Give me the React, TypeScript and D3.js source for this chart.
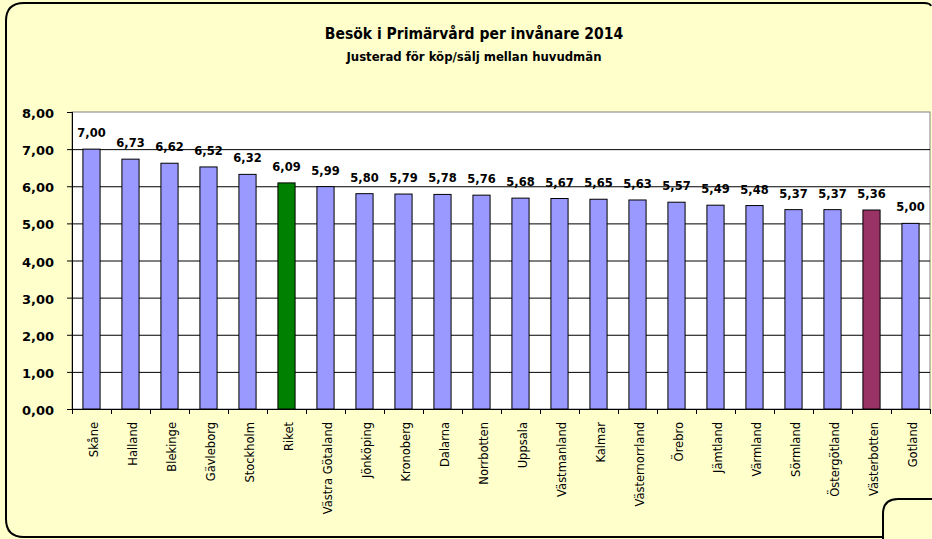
import React from 'react';
import * as d3 from 'd3';

const WIDTH = 932;
const HEIGHT = 539;

// regions, sorted as in the picture
const regions = [
  'Skåne', 'Halland', 'Blekinge', 'Gävleborg', 'Stockholm', 'Riket',
  'Västra Götaland', 'Jönköping', 'Kronoberg', 'Dalarna', 'Norrbotten',
  'Uppsala', 'Västmanland', 'Kalmar', 'Västernorrland', 'Örebro',
  'Jämtland', 'Värmland', 'Sörmland', 'Östergötland', 'Västerbotten', 'Gotland',
];
const visits = [
  7.00, 6.73, 6.62, 6.52, 6.32, 6.09, 5.99, 5.80, 5.79, 5.78, 5.76,
  5.68, 5.67, 5.65, 5.63, 5.57, 5.49, 5.48, 5.37, 5.37, 5.36, 5.00,
];
const yTicks = [0, 1, 2, 3, 4, 5, 6, 7, 8];
const highlight: Record<string, string> = {
  Riket: '#008000',
  Västerbotten: '#993366',
};

const TITLE = 'Besök i Primärvård per invånare 2014';
const SUBTITLE = 'Justerad för köp/sälj mellan huvudmän';

const margin = { left: 72, top: 112, right: 930, bottom: 409 };
const BAR_COLOR = '#9999FF';
const BG = '#FFFFCC';
const CONDENSED = "'DejaVu Sans Condensed', 'DejaVu Sans'";

const fmt = (v: number) => d3.format('.2f')(v).replace('.', ',');

export default function App() {
  const x = d3.scaleBand<string>()
    .domain(regions)
    .range([margin.left, margin.right])
    .paddingInner(0.56)
    .paddingOuter(0.28);
  const y = d3.scaleLinear().domain([0, 8]).range([margin.bottom, margin.top]);
  const step = x.step();
  const boundaries = d3.range(regions.length + 1).map(i => margin.left + i * step);

  // frame outline (rounded), with the corner of another object bottom right
  const r = 18;
  const framePath = `M 883 537 L ${6 + r} 537 Q 6 537 6 ${537 - r} L 6 ${3 + r} Q 6 3 ${6 + r} 3 L 924 3 Q 930 3 931 6`;
  const notchPath = `M 883 540 L 883 514 Q 883 499 898 499 L 934 499`;

  return (
    <svg width={WIDTH} height={HEIGHT} style={{ position: 'absolute', left: 0, top: 0 }}
      xmlns="http://www.w3.org/2000/svg">
      <rect x={0} y={0} width={WIDTH} height={HEIGHT} fill={BG} />
      <path d={framePath} fill="none" stroke="#000" strokeWidth={2} />
      <path d={notchPath} fill="none" stroke="#000" strokeWidth={2} />

      <text x={474} y={39} textAnchor="middle" fontFamily={CONDENSED}
        fontStretch="condensed" fontWeight="bold" fontSize={15.5}>{TITLE}</text>
      <text x={474} y={61} textAnchor="middle" fontFamily={CONDENSED}
        fontStretch="condensed" fontWeight="bold" fontSize={13}>{SUBTITLE}</text>

      {/* plot area */}
      <rect x={margin.left} y={margin.top} width={margin.right - margin.left}
        height={margin.bottom - margin.top} fill="#fff" stroke="#808080" strokeWidth={1} />

      {yTicks.filter(t => t > 0 && t < 8).map(t => (
        <line key={`g-${t}`} x1={margin.left} x2={margin.right} y1={y(t) + 0.5} y2={y(t) + 0.5}
          stroke="#000" strokeWidth={1} />
      ))}

      {regions.map((reg, i) => (
        <rect key={reg} x={x(reg)} y={y(visits[i])} width={x.bandwidth()}
          height={y(0) - y(visits[i])} fill={highlight[reg] || BAR_COLOR}
          stroke="#000" strokeWidth={1} />
      ))}

      {regions.map((reg, i) => (
        <text key={`v-${reg}`} x={(x(reg) as number) + x.bandwidth() / 2} y={y(visits[i]) - 12}
          textAnchor="middle" fontFamily="'DejaVu Sans'" fontWeight="bold" fontSize={11.5}>
          {fmt(visits[i])}
        </text>
      ))}

      {/* y axis */}
      <line x1={margin.left + 0.5} x2={margin.left + 0.5} y1={margin.top} y2={margin.bottom + 5}
        stroke="#000" strokeWidth={1} />
      {yTicks.map(t => (
        <g key={`yt-${t}`}>
          <line x1={margin.left - 5} x2={margin.left} y1={y(t) + 0.5} y2={y(t) + 0.5} stroke="#000" />
          <text x={margin.left - 18} y={y(t) + 6} textAnchor="end" fontFamily="'DejaVu Sans'"
            fontWeight="bold" fontSize={13}>{fmt(t)}</text>
        </g>
      ))}

      {/* x axis */}
      <line x1={margin.left} x2={margin.right} y1={margin.bottom + 0.5} y2={margin.bottom + 0.5}
        stroke="#000" strokeWidth={1} />
      {boundaries.map((b, i) => (
        <line key={`xt-${i}`} x1={b + 0.5} x2={b + 0.5} y1={margin.bottom} y2={margin.bottom + 5}
          stroke="#000" />
      ))}
      {regions.map(reg => {
        const cx = (x(reg) as number) + x.bandwidth() / 2 + 6;
        return (
          <text key={`l-${reg}`} transform={`translate(${cx},${margin.bottom + 13}) rotate(-90)`}
            textAnchor="end" fontFamily="'DejaVu Sans'" fontSize={11.5}>{reg}</text>
        );
      })}
    </svg>
  );
}
